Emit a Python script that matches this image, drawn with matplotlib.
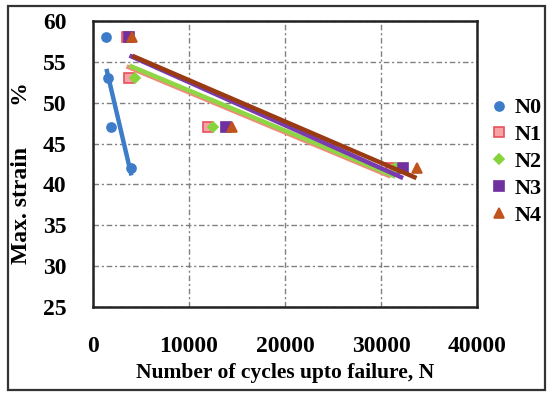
import numpy as np
import matplotlib
matplotlib.use("Agg")
import matplotlib.pyplot as plt
from matplotlib.lines import Line2D
from matplotlib.patches import Rectangle

# Fatigue data: cycles to failure vs. maximum strain for each sample set
n0_cycles = [1400, 1600, 1900, 4000]
n0_strain = [58, 53, 47, 42]
n1_cycles = [3500, 3800, 12000, 31000]
n1_strain = [58, 53, 47, 42]
n2_cycles = [3800, 4400, 12500, 31500]
n2_strain = [58, 53, 47, 42]
n3_cycles = [3800, 13900, 32300]
n3_strain = [58, 47, 42]
n4_cycles = [4100, 14500, 33700]
n4_strain = [58, 47, 42]

series_names = ["N0", "N1", "N2", "N3", "N4"]
x_ticks = [0, 10000, 20000, 30000, 40000]
y_ticks = [25, 30, 35, 40, 45, 50, 55, 60]

plt.rcParams["font.family"] = ["Liberation Serif", "DejaVu Serif"]
plt.rcParams["font.weight"] = "bold"

fig = plt.figure(figsize=(5.47, 3.93), dpi=100)
fig.patch.set_facecolor("white")

# outer frame around the whole chart
fig.add_artist(Rectangle((8 / 547, 3 / 393), 537 / 547, 384 / 393,
                         transform=fig.transFigure, fill=False,
                         edgecolor="#333333", linewidth=1.6))

ax = fig.add_axes([93 / 547, 86 / 393, 384 / 547, 286 / 393])

styles = [
    dict(marker="o", mec="#3c7cc8", mfc="#3c7cc8", ms=6.5, line="#3c7cc8"),
    dict(marker="s", mec="#e8505b", mfc="#f6a3a6", ms=6.5, line="#f08a7a"),
    dict(marker="D", mec="#86d43c", mfc="#86d43c", ms=5.5, line="#8ed644"),
    dict(marker="s", mec="#7030a0", mfc="#7030a0", ms=6.5, line="#7a3ab0"),
    dict(marker="^", mec="#c0541c", mfc="#c0541c", ms=7, line="#9a3a12"),
]
data = [(n0_cycles, n0_strain), (n1_cycles, n1_strain), (n2_cycles, n2_strain),
        (n3_cycles, n3_strain), (n4_cycles, n4_strain)]

for (xs, ys), st in zip(data, styles):
    ax.plot(xs, ys, linestyle="none", marker=st["marker"], ms=st["ms"],
            mfc=st["mfc"], mec=st["mec"], mew=1.2, zorder=3)

# linear trendlines over each series' range
for (xs, ys), st in zip(data, styles):
    xs = np.asarray(xs, float)
    k, b = np.polyfit(xs, ys, 1)
    xr = np.array([xs.min(), xs.max()])
    ax.plot(xr, k * xr + b, color=st["line"], linewidth=3.2,
            solid_capstyle="butt", zorder=4)

ax.set_xlim(0, 40000)
ax.set_ylim(25, 60)
ax.set_xticks(x_ticks)
ax.set_yticks(y_ticks)
ax.set_xticklabels([str(v) for v in x_ticks])
ax.set_yticklabels([str(v) for v in y_ticks])
ax.tick_params(axis="both", length=0, labelsize=17)
ax.tick_params(axis="y", pad=19)
ax.tick_params(axis="x", pad=21)

ax.grid(True, color="#808080", linewidth=1.0, linestyle=(0, (4, 2, 1.5, 2)), zorder=0)
for s in ax.spines.values():
    s.set_linewidth(1.8)
    s.set_color("#222222")

ax.set_xlabel("Number of cycles upto failure, N", fontsize=15.5, fontweight="bold", labelpad=4)
ax.set_ylabel("Max. strain       %", fontsize=17, fontweight="bold", labelpad=2)
ax.yaxis.set_label_coords(-0.16, 0.47)

handles = [Line2D([], [], linestyle="none", marker=st["marker"], ms=st["ms"],
                  mfc=st["mfc"], mec=st["mec"], mew=1.2) for st in styles]
fig.legend(handles, series_names, loc="upper left",
           bbox_to_anchor=(481 / 547, 1 - 89 / 393), frameon=False,
           prop=dict(size=16, weight="bold"), handlelength=0.8,
           handletextpad=0.3, labelspacing=0.28, borderaxespad=0)

fig.savefig("out.png", dpi=100)
